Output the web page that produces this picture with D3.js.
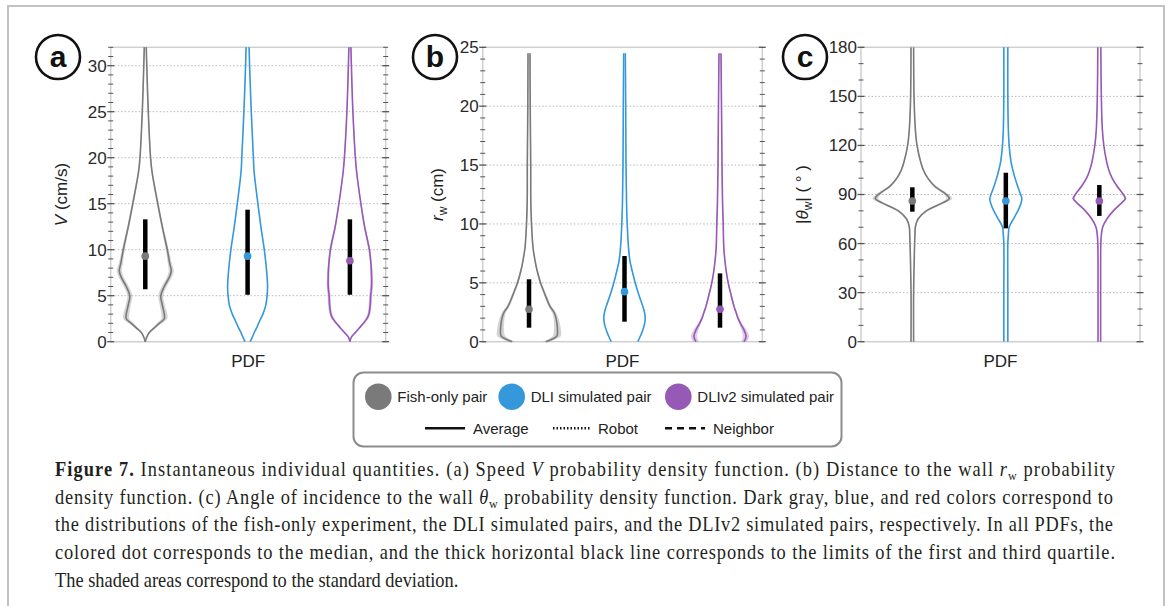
<!DOCTYPE html>
<html><head><meta charset="utf-8">
<script src="https://cdn.jsdelivr.net/npm/d3@7"></script>
<style>body{margin:0;background:#fff} svg{display:block}</style>
</head><body>
<svg id="c" width="1168" height="606"></svg>
<script>
// ---------------- DATA ----------------
const groups = ["Fish-only pair", "DLI simulated pair", "DLIv2 simulated pair"];
const groupColors = ["#7a7a7a", "#3498db", "#9659b5"];
const lineStyles = ["Average", "Robot", "Neighbor"];

// (a) speed V (cm/s) — PDF values on a shared grid
const speedGrid  = [0, 0.5, 1, 1.5, 2, 2.5, 3, 4, 5, 6, 7, 7.7, 8.5, 10, 12.5, 15, 18.5, 20, 25, 30, 32];
const speedFish  = [0, .0075, .02, .045, .07, .095, .095, .085, .0775, .095, .12, .13, .1225, .11, .085, .0625, .0335, .0265, .015, .0075, .005];
const speedFishSd= [.0015, .0025, .004, .0075, .0125, .015, .015, .0125, .0125, .0125, .0125, .0125, .01, .0075, .005, .005, .0035, .0025, .0025, .0025, .0025];
const speedDLI   = [.0125, .0235, .0335, .045, .055, .066, .0765, .0915, .0975, .1, .0975, .095, .0915, .0835, .0665, .0515, .0325, .029, .0185, .01, .0075];
const speedDLISd = [.001, .001, .001, .001, .001, .001, .001, .001, .001, .001, .001, .001, .001, .001, .001, .001, .001, .001, .001, .001, .001];
const speedDLIv2 = [0, .0075, .0275, .0475, .0675, .085, .095, .1015, .104, .1085, .1085, .1075, .105, .0975, .0735, .055, .0335, .0275, .015, .0075, .005];
const speedDLIv2Sd=[.0015, .0025, .004, .005, .006, .0075, .0075, .0075, .0075, .0075, .006, .006, .005, .005, .004, .003, .0025, .0025, .0025, .0025, .0025];
const speedQ1  = [5.7, 5.1, 5.1];
const speedMed = [9.3, 9.3, 8.8];
const speedQ3  = [13.3, 14.35, 13.3];
const speedTicks = [0, 5, 10, 15, 20, 25, 30];

// (b) distance to the wall r_w (cm)
const distGrid  = [0, 0.25, 0.5, 1, 1.5, 2, 2.5, 3, 4, 5, 6, 7, 8, 10, 12, 15, 20, 24.5];
const distFish  = [.17, .24, .28, .285, .28, .27, .25, .21, .16, .115, .082, .058, .04, .025, .018, .017, .012, .01];
const distFishSd= [.03, .04, .04, .035, .03, .025, .02, .015, .012, .01, .008, .005, .005, .005, .005, .005, .005, .005];
const distDLI   = [.133, .147, .16, .183, .2, .207, .2, .183, .142, .107, .077, .052, .04, .027, .02, .015, .012, .008];
const distDLISd = [.002, .002, .002, .002, .002, .002, .002, .002, .002, .002, .002, .002, .002, .002, .002, .002, .002, .002];
const distDLIv2 = [.24, .255, .26, .24, .208, .18, .16, .14, .11, .082, .062, .048, .038, .032, .025, .02, .015, .01];
const distDLIv2Sd=[.025, .03, .03, .025, .015, .01, .008, .008, .008, .006, .005, .005, .005, .005, .005, .005, .005, .005];
const distQ1  = [1.19, 1.7, 1.19];
const distMed = [2.75, 4.25, 2.75];
const distQ3  = [5.3, 7.28, 5.8];
const distTicks = [0, 5, 10, 15, 20, 25];

// (c) angle of incidence |theta_w| (deg)
const angleGrid  = [0, 30, 60, 65, 70, 75, 80, 85, 87.5, 90, 95, 100, 105, 110, 120, 130, 150, 180];
const angleFish  = [.0026, .0026, .0046, .0052, .006, .0114, .028, .0614, .074, .068, .045, .031, .022, .0166, .0094, .006, .0034, .0026];
const angleFishSd= [.0006, .0006, .0008, .001, .0012, .0016, .003, .005, .006, .005, .003, .002, .0016, .0012, .001, .0008, .0006, .0006];
const angleDLI   = [.004, .004, .004, .005, .0066, .015, .024, .0306, .032, .0296, .0236, .0184, .014, .0104, .0066, .005, .004, .004];
const angleDLISd = [.0003, .0003, .0003, .0003, .0003, .0003, .0003, .0003, .0003, .0003, .0003, .0003, .0003, .0003, .0003, .0003, .0003, .0003];
const angleDLIv2 = [.0026, .0026, .003, .004, .0066, .015, .028, .045, .052, .048, .0356, .0256, .019, .0146, .009, .006, .004, .003];
const angleDLIv2Sd=[.0005, .0005, .0005, .0006, .0008, .001, .0014, .002, .0024, .002, .0014, .001, .0008, .0006, .0005, .0005, .0005, .0005];
const angleQ1  = [79.5, 69.3, 76.9];
const angleMed = [86, 86, 86];
const angleQ3  = [94.4, 103.3, 95.8];
const angleTicks = [0, 30, 60, 90, 120, 150, 180];

// ---------------- DRAW ----------------
const svg = d3.select("#c");
const FONT = "'Liberation Sans', Arial, Helvetica, sans-serif";
const SERIF = "'Liberation Serif', 'Times New Roman', serif";

svg.append("rect").attr("x", 8).attr("y", 6).attr("width", 1156).attr("height", 650)
  .attr("fill", "none").attr("stroke", "#c2c2c2").attr("stroke-width", 2);

const TOP = 47.3, BOTTOM = 341.7;

const panels = [
  { letter: "a", grid: speedGrid, series: [speedFish, speedDLI, speedDLIv2], sds: [speedFishSd, speedDLISd, speedDLIv2Sd],
    q1: speedQ1, med: speedMed, q3: speedQ3, yMax: 32, ticks: speedTicks, minor: 1,
    left: 110.7, right: 385.7, xDom: [0.662, 3.35], wDom: [0, 0.13], wRange: [0, 26], circle: [58, 57], labX: 67, label: "V" },
  { letter: "b", grid: distGrid, series: [distFish, distDLI, distDLIv2], sds: [distFishSd, distDLISd, distDLIv2Sd],
    q1: distQ1, med: distMed, q3: distQ3, yMax: 25, ticks: distTicks, minor: 1,
    left: 482.7, right: 762.3, xDom: [0.515, 3.443], wDom: [0, 0.3], wRange: [0, 30], circle: [435, 57], labX: 443, label: "r" },
  { letter: "c", grid: angleGrid, series: [angleFish, angleDLI, angleDLIv2], sds: [angleFishSd, angleDLISd, angleDLIv2Sd],
    q1: angleQ1, med: angleMed, q3: angleQ3, yMax: 180, ticks: angleTicks, minor: 10,
    left: 861, right: 1140, xDom: [0.451, 3.435], wDom: [0, 0.08], wRange: [0, 40], circle: [805, 57], labX: 808, label: "theta" }
];

panels.forEach(p => {
  const g = svg.append("g");
  const y = d3.scaleLinear().domain([0, p.yMax]).range([BOTTOM, TOP]);
  const x = d3.scaleLinear().domain(p.xDom).range([p.left, p.right]);
  const w = d3.scaleLinear().domain(p.wDom).range(p.wRange);

  // gridlines
  p.ticks.filter(t => t > 0 && t < p.yMax).forEach(t => {
    g.append("line").attr("x1", p.left).attr("x2", p.right).attr("y1", y(t)).attr("y2", y(t))
      .attr("stroke", "#b8b8b8").attr("stroke-width", 1).attr("stroke-dasharray", "1.5,2");
  });
  // frame
  g.append("rect").attr("x", p.left).attr("y", TOP).attr("width", p.right - p.left).attr("height", BOTTOM - TOP)
    .attr("fill", "none").attr("stroke", "#cfcfcf").attr("stroke-width", 1.5);

  // ticks (left + right), major and minor
  const minorTicks = d3.range(0, p.yMax + 1e-9, p.minor);
  [p.left, p.right].forEach(ax => {
    minorTicks.forEach(t => {
      const major = p.ticks.includes(t);
      const len = major ? 3.5 : 2.5;
      g.append("line").attr("x1", ax - len).attr("x2", ax + len).attr("y1", y(t)).attr("y2", y(t))
        .attr("stroke", "#555").attr("stroke-width", major ? 1.3 : 1);
    });
  });
  // tick labels via d3 axis
  const axis = d3.axisLeft(y).tickValues(p.ticks).tickSize(0).tickPadding(4);
  const axG = g.append("g").attr("transform", `translate(${p.left},0)`).call(axis);
  axG.attr("font-size", null).attr("font-family", null);
  axG.select(".domain").remove();
  axG.selectAll("text").style("font-family", FONT).style("font-size", "17px").attr("fill", "#2a2a2a");

  // x label
  g.append("text").attr("x", (p.left + p.right) / 2).attr("y", 367).attr("text-anchor", "middle")
    .style("font-family", FONT).style("font-size", "17px").attr("fill", "#222").text("PDF");

  // y label
  const yl = g.append("text").attr("transform", `translate(${p.labX},${(TOP + BOTTOM) / 2}) rotate(-90)`)
    .attr("text-anchor", "middle").style("font-family", FONT).style("font-size", "17px").attr("fill", "#222");
  if (p.label === "V") {
    yl.append("tspan").attr("font-style", "italic").text("V");
    yl.append("tspan").text(" (cm/s)");
  } else if (p.label === "r") {
    yl.append("tspan").attr("font-style", "italic").text("r");
    yl.append("tspan").style("font-size", "12px").attr("dy", 4).text("w");
    yl.append("tspan").attr("dy", -4).text(" (cm)");
  } else {
    yl.append("tspan").text("|");
    yl.append("tspan").attr("font-style", "italic").text("θ");
    yl.append("tspan").style("font-size", "12px").attr("dy", 4).text("w");
    yl.append("tspan").attr("dy", -4).text("| ( ° )");
  }

  // violins
  p.series.forEach((dens, i) => {
    const cx = x(i + 1);
    const pts = p.grid.map((v, k) => ({ v, d: dens[k], s: p.sds[i][k] }));
    const col = groupColors[i];
    [-1, 1].forEach(side => {
      const band = d3.area().curve(d3.curveCatmullRom)
        .y(d => y(d.v))
        .x0(d => cx + side * w(Math.max(0, d.d - d.s)))
        .x1(d => cx + side * w(d.d + d.s));
      g.append("path").attr("d", band(pts)).attr("fill", col).attr("fill-opacity", 0.32).attr("stroke", "none");
      const line = d3.line().curve(d3.curveCatmullRom).y(d => y(d.v)).x(d => cx + side * w(d.d));
      g.append("path").attr("d", line(pts)).attr("fill", "none").attr("stroke", col).attr("stroke-width", 1.6);
    });
    // quartile bar
    g.append("line").attr("x1", cx).attr("x2", cx).attr("y1", y(p.q1[i])).attr("y2", y(p.q3[i]))
      .attr("stroke", "#000").attr("stroke-width", 4.5);
    g.append("circle").attr("cx", cx).attr("cy", y(p.med[i])).attr("r", 3.8).attr("fill", col);
  });

  // panel letter circle
  g.append("circle").attr("cx", p.circle[0]).attr("cy", p.circle[1]).attr("r", 22)
    .attr("fill", "#fff").attr("stroke", "#111").attr("stroke-width", 2.6);
  g.append("text").attr("x", p.circle[0]).attr("y", p.circle[1] + 10).attr("text-anchor", "middle")
    .style("font-family", FONT).attr("font-weight", "bold").style("font-size", "30px").attr("fill", "#111").text(p.letter);
});

// legend
const lg = svg.append("g");
lg.append("rect").attr("x", 353.5).attr("y", 372.5).attr("width", 488).attr("height", 74).attr("rx", 10)
  .attr("fill", "#fff").attr("stroke", "#8c8c8c").attr("stroke-width", 2);
const legCx = [378.3, 511.7, 678.3];
groups.forEach((name, i) => {
  lg.append("circle").attr("cx", legCx[i]).attr("cy", 396.7).attr("r", 13.3).attr("fill", groupColors[i]);
  lg.append("text").attr("x", legCx[i] + 19).attr("y", 402).style("font-family", FONT).style("font-size", "15px")
    .attr("fill", "#222").text(name);
});
const styleX = [[425, 465, null], [553, 590, "1.5,2"], [665, 705, "7,5"]];
lineStyles.forEach((name, i) => {
  const [x1, x2, dash] = styleX[i];
  const l = lg.append("line").attr("x1", x1).attr("x2", x2).attr("y1", 428.3).attr("y2", 428.3)
    .attr("stroke", "#111").attr("stroke-width", 2.4);
  if (dash) l.attr("stroke-dasharray", dash);
  lg.append("text").attr("x", x2 + 8).attr("y", 433.5).style("font-family", FONT).style("font-size", "15px")
    .attr("fill", "#222").text(name);
});

// caption (condensed serif: horizontally scaled, lines 1-4 justified)
const cap = [
  [["Figure 7.", "b"], [" Instantaneous individual quantities. (a) Speed "], ["V", "i"], [" probability density function. (b) Distance to the wall "], ["r", "i"], ["w", "sub"], [" probability"]],
  [["density function. (c) Angle of incidence to the wall "], ["θ", "i"], ["w", "sub"], [" probability density function. Dark gray, blue, and red colors correspond to"]],
  [["the distributions of the fish-only experiment, the DLI simulated pairs, and the DLIv2 simulated pairs, respectively. In all PDFs, the"]],
  [["colored dot corresponds to the median, and the thick horizontal black line corresponds to the limits of the first and third quartile."]],
  [["The shaded areas correspond to the standard deviation."]]
];
const capBase = [476, 504, 531, 559, 587];
const capLen = [1060, 1058, 1058, 1060, null];
const SX = 0.92;
const capG = svg.append("g").attr("transform", `scale(${SX},1)`);
cap.forEach((segs, li) => {
  const t = capG.append("text").attr("x", 55 / SX).attr("y", capBase[li]).style("font-family", SERIF)
    .style("font-size", "20px").attr("fill", "#231f20");
  if (capLen[li]) t.attr("textLength", capLen[li] / SX).attr("lengthAdjust", "spacing");
  let shifted = false;
  segs.forEach(([s, st]) => {
    const ts = t.append("tspan").text(s);
    if (st === "b") ts.attr("font-weight", "bold");
    if (st === "i") ts.attr("font-style", "italic");
    if (st === "sub") { ts.style("font-size", "13px").attr("dy", 4); shifted = true; }
    else if (shifted) { ts.attr("dy", -4); shifted = false; }
  });
});
</script>
</body></html>
